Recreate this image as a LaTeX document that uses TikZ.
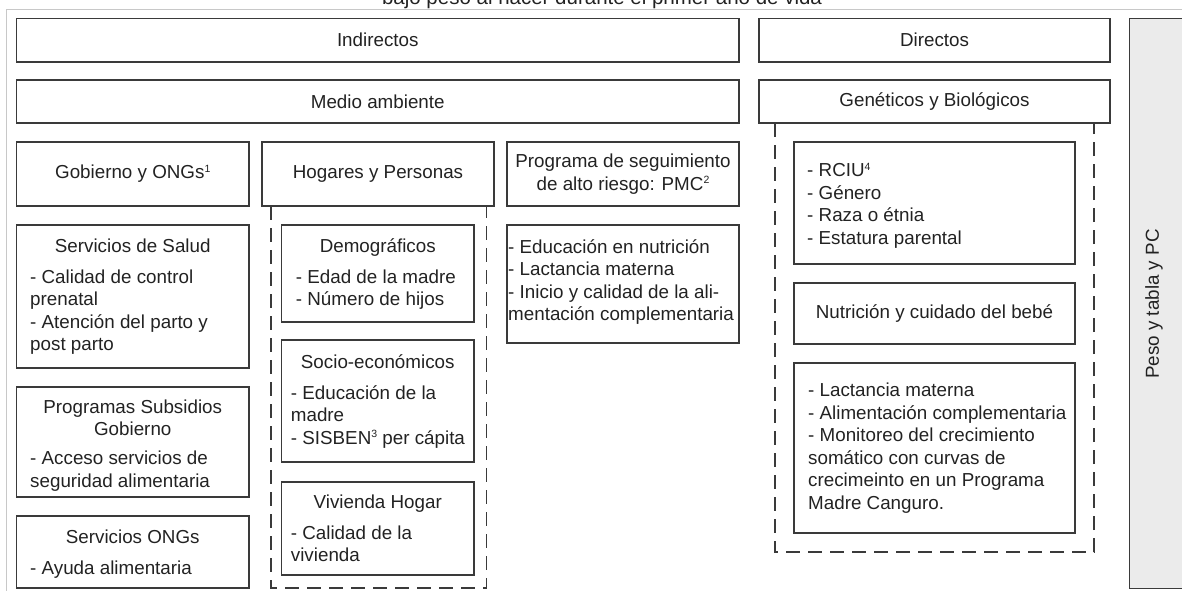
\documentclass[tikz,border=0pt]{standalone}
\usepackage{fontspec}
\setmainfont{Liberation Sans}
\definecolor{boxc}{HTML}{3A3A3A}
\definecolor{txtc}{HTML}{222222}
\definecolor{framec}{HTML}{C8C8C8}
\definecolor{grayfill}{HTML}{EBEBEB}
\newcommand{\sups}[1]{\raisebox{6.3pt}{\fontsize{10.5}{10.5}\selectfont #1}}
\tikzset{
  bx/.style={draw=boxc, line width=1.1pt, inner sep=0pt, align=center},
  hd/.style={anchor=base, inner sep=0pt, align=center},
  itm/.style={anchor=base west, inner sep=0pt, align=left},
  dsh/.style={draw=boxc, line width=1.1pt, dash pattern=on 14pt off 8pt},
}
\begin{document}
\begin{tikzpicture}[x=1pt,y=-1pt,font=\fontsize{18.8}{22.5}\selectfont,text=txtc]
\useasboundingbox (0,0) rectangle (1182,590);
\clip (0,0) rectangle (1182,590);
% outer frame and title
\draw[framec, line width=1pt] (6.5,600) -- (6.5,9) -- (1190,9);
\node[font=\fontsize{20.5}{24}\selectfont, anchor=base, inner sep=0pt] (title) at (602,4) {bajo peso al nacer durante el primer año de vida};
% side panel
\node[draw=boxc, fill=grayfill, line width=1.1pt, minimum width=80pt, minimum height=570pt, anchor=north west, inner sep=0pt] (side) at (1128.7,18) {};
\node[rotate=90, inner sep=0pt] (sidet) at (1154,304) {Peso y tabla y PC};
% top rows
\node[bx, minimum width=722.5pt, minimum height=43.5pt] (ind) at (377.75,40.25) {Indirectos};
\node[bx, minimum width=351pt, minimum height=43.5pt] (dir) at (934.5,40.25) {Directos};
\node[bx, minimum width=722.5pt, minimum height=43pt] (med) at (377.75,101.5) {Medio ambiente};
\node[bx, minimum width=351pt, minimum height=43pt] (gen) at (934.5,101.5) {Genéticos y Biológicos};
% third row
\node[bx, minimum width=232.5pt, minimum height=64pt] (gob) at (132.75,174) {Gobierno y ONGs\sups{1}};
\node[bx, minimum width=232pt, minimum height=64pt] (hog) at (378,174) {Hogares y Personas};
\node[bx, minimum width=232pt, minimum height=64pt] (pmc) at (623,174) {Programa de seguimiento\\de alto riesgo: PMC\sups{2}};
% left column
\node[bx, minimum width=232.5pt, minimum height=143pt] (sal) at (132.75,296.5) {};
\node[hd] (salh) at (132.75,252.5) {Servicios de Salud};
\node[itm] (sall) at (30,350.7) {- Calidad de control\\prenatal\\- Atención del parto y\\post parto};
\node[bx, minimum width=232.5pt, minimum height=110pt] (sub) at (132.75,442) {};
\node[hd] (subh) at (132.75,435.7) {Programas Subsidios\\Gobierno};
\node[itm] (subl) at (30,487.3) {- Acceso servicios de\\seguridad alimentaria};
\node[bx, minimum width=232.5pt, minimum height=72pt] (ong) at (132.75,552) {};
\node[hd] (ongh) at (132.75,543.2) {Servicios ONGs};
\node[itm] (ongl) at (30,574.5) {- Ayuda alimentaria};
% households column
\draw[dsh] (271,206) -- (271,588) -- (486.5,588) -- (486.5,206);
\node[bx, minimum width=192.5pt, minimum height=97pt] (dem) at (377.75,273.5) {};
\node[hd] (demh) at (377.75,252.5) {Demográficos};
\node[itm] (deml) at (295.7,305.7) {- Edad de la madre\\- Número de hijos};
\node[bx, minimum width=192.5pt, minimum height=122pt] (soc) at (377.75,401) {};
\node[hd] (soch) at (377.75,368.5) {Socio-económicos};
\node[itm] (socl) at (290.7,444.2) {- Educación de la\\madre\\- SISBEN\sups{3} per cápita};
\node[bx, minimum width=192.5pt, minimum height=93pt] (viv) at (377.75,528.5) {};
\node[hd] (vivh) at (377.75,508.2) {Vivienda Hogar};
\node[itm] (vivl) at (290.7,561.7) {- Calidad de la\\vivienda};
% program column
\node[bx, minimum width=232pt, minimum height=118pt] (edu) at (623,284) {};
\node[itm] (edul) at (508,320.7) {- Educación en nutrición\\- Lactancia materna\\- Inicio y calidad de la ali-\\mentación complementaria};
% direct column
\draw[dsh] (775,123) -- (775,552) -- (1094,552) -- (1094,123);
\node[bx, minimum width=281pt, minimum height=122pt] (rci) at (934.5,203) {};
\node[itm] (rcil) at (807,244) {- RCIU\sups{4}\\- Género\\- Raza o étnia\\- Estatura parental};
\node[bx, minimum width=281pt, minimum height=61pt] (nut) at (934.5,313.5) {Nutrición y cuidado del bebé};
\node[bx, minimum width=281pt, minimum height=170pt] (lac) at (934.5,448) {};
\node[itm] (lacl) at (808,509) {- Lactancia materna\\- Alimentación complementaria\\- Monitoreo del crecimiento\\somático con curvas de\\crecimeinto en un Programa\\Madre Canguro.};
\end{tikzpicture}
\end{document}
